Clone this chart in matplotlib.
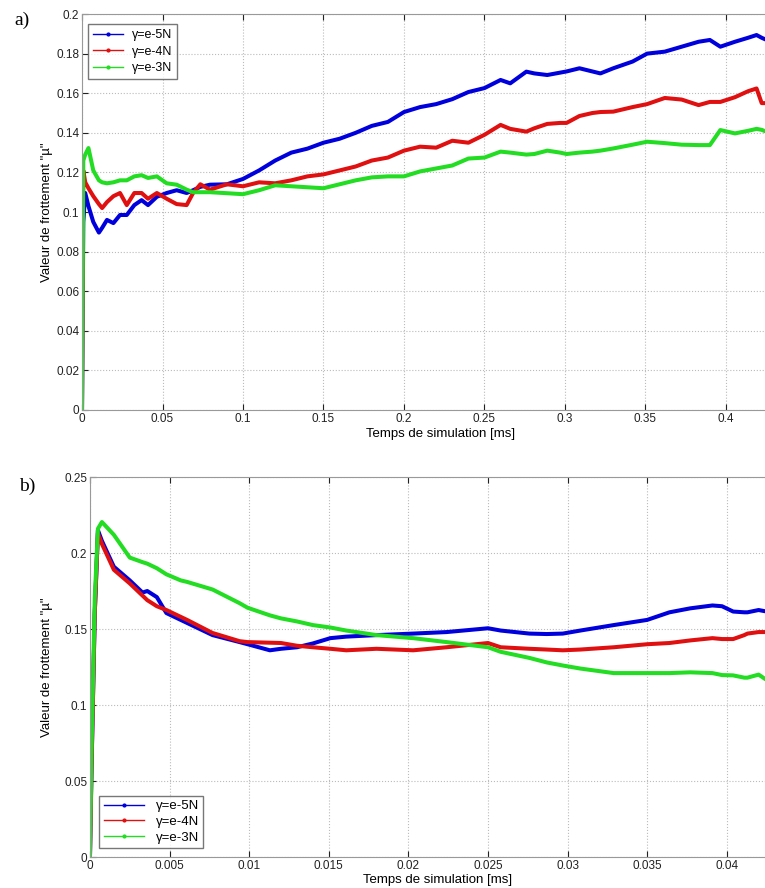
import matplotlib
matplotlib.use("Agg")
import matplotlib.pyplot as plt
from matplotlib.lines import Line2D
from matplotlib.ticker import FuncFormatter

plt.rcParams['font.family'] = ['Liberation Sans', 'DejaVu Sans']

# ---- donnees panneau a) ----
t_a = [0, 0.0008, 0.002, 0.004, 0.007, 0.0105, 0.0125, 0.0155, 0.0195, 0.0236,
       0.0278, 0.0325, 0.037, 0.041, 0.0465, 0.0526, 0.0588, 0.065, 0.069, 0.0735,
       0.0795, 0.09, 0.1, 0.11, 0.12, 0.13, 0.14, 0.15, 0.16, 0.17,
       0.18, 0.19, 0.2, 0.21, 0.22, 0.23, 0.24, 0.25, 0.26, 0.266,
       0.276, 0.281, 0.289, 0.297, 0.301, 0.309, 0.317, 0.322, 0.33, 0.342,
       0.351, 0.362, 0.3725, 0.383, 0.39, 0.3965, 0.4056, 0.4137, 0.419, 0.4222,
       0.425]
mu_a_e5 = [0.0, 0.095, 0.1096, 0.103, 0.095, 0.0896, 0.092, 0.096, 0.0944, 0.0985,
           0.0985, 0.1035, 0.106, 0.1035, 0.1077, 0.1096, 0.111, 0.1096, 0.111, 0.1127,
           0.1138, 0.114, 0.1167, 0.121, 0.126, 0.130, 0.132, 0.135, 0.137, 0.140,
           0.1435, 0.1455, 0.1505, 0.153, 0.1545, 0.157, 0.1606, 0.1626, 0.1667, 0.165,
           0.1709, 0.170, 0.1692, 0.1704, 0.171, 0.1726, 0.171, 0.170, 0.1726, 0.176,
           0.180, 0.181, 0.1835, 0.186, 0.1869, 0.1835, 0.186, 0.188, 0.1894, 0.188,
           0.187]
mu_a_e4 = [0.0, 0.121, 0.115, 0.112, 0.108, 0.104, 0.102, 0.105, 0.108, 0.1096,
           0.1035, 0.1096, 0.1096, 0.1067, 0.1096, 0.1067, 0.104, 0.1035, 0.1096, 0.114,
           0.1113, 0.114, 0.113, 0.115, 0.1145, 0.116, 0.118, 0.119, 0.121, 0.123,
           0.126, 0.1275, 0.131, 0.133, 0.1325, 0.136, 0.135, 0.139, 0.144, 0.142,
           0.1406, 0.1423, 0.1445, 0.145, 0.145, 0.1485, 0.150, 0.1505, 0.1507, 0.153,
           0.1545, 0.1576, 0.1568, 0.154, 0.1556, 0.1556, 0.158, 0.161, 0.1624, 0.155,
           0.155]
mu_a_e3 = [0.0, 0.126, 0.129, 0.1323, 0.121, 0.116, 0.115, 0.1145, 0.115, 0.116,
           0.116, 0.118, 0.1186, 0.1172, 0.118, 0.1145, 0.1138, 0.1113, 0.110, 0.110,
           0.110, 0.1095, 0.109, 0.111, 0.1135, 0.113, 0.1125, 0.112, 0.114, 0.116,
           0.1175, 0.118, 0.118, 0.1205, 0.122, 0.1235, 0.127, 0.1275, 0.1305, 0.130,
           0.129, 0.1293, 0.131, 0.130, 0.1293, 0.130, 0.1305, 0.131, 0.1321, 0.134,
           0.1355, 0.1348, 0.134, 0.1338, 0.1338, 0.1414, 0.1397, 0.141, 0.142, 0.1415,
           0.1406]
xticks_a = [0, 0.05, 0.1, 0.15, 0.2, 0.25, 0.3, 0.35, 0.4]
yticks_a = [0, 0.02, 0.04, 0.06, 0.08, 0.1, 0.12, 0.14, 0.16, 0.18, 0.2]

# ---- donnees panneau b) ----
t_b = [0, 0.0001, 0.0003, 0.0005, 0.00075, 0.0015, 0.0025, 0.0033, 0.0036, 0.0042,
       0.0048, 0.0057, 0.0061, 0.0077, 0.0094, 0.0099, 0.0113, 0.012, 0.013, 0.014,
       0.0151, 0.0161, 0.018, 0.0203, 0.0224, 0.025, 0.0258, 0.0276, 0.0287, 0.0297,
       0.0308, 0.0329, 0.035, 0.0364, 0.0377, 0.0391, 0.0397, 0.0404, 0.0411, 0.0413,
       0.042, 0.0425]
mu_b_e5 = [0.0, 0.06, 0.16, 0.215, 0.208, 0.191, 0.182, 0.174, 0.175, 0.171,
           0.1605, 0.156, 0.154, 0.146, 0.1414, 0.140, 0.136, 0.137, 0.138, 0.1405,
           0.144, 0.145, 0.146, 0.147, 0.148, 0.1505, 0.149, 0.147, 0.1467, 0.147,
           0.149, 0.1526, 0.156, 0.161, 0.1636, 0.1655, 0.165, 0.1615, 0.161, 0.161,
           0.1625, 0.1615]
mu_b_e4 = [0.0, 0.06, 0.16, 0.213, 0.206, 0.189, 0.180, 0.172, 0.169, 0.165,
           0.1625, 0.158, 0.156, 0.1474, 0.142, 0.1414, 0.141, 0.1408, 0.139, 0.138,
           0.137, 0.136, 0.137, 0.136, 0.138, 0.1408, 0.138, 0.137, 0.1365, 0.136,
           0.1365, 0.138, 0.140, 0.1408, 0.1425, 0.144, 0.1434, 0.1434, 0.146, 0.147,
           0.148, 0.148]
mu_b_e3 = [0.0, 0.07, 0.17, 0.216, 0.2204, 0.212, 0.197, 0.194, 0.193, 0.190,
           0.186, 0.182, 0.181, 0.176, 0.167, 0.164, 0.159, 0.157, 0.155, 0.1526,
           0.151, 0.149, 0.146, 0.144, 0.1414, 0.138, 0.135, 0.131, 0.128, 0.126,
           0.124, 0.121, 0.121, 0.121, 0.1215, 0.121, 0.1197, 0.1195, 0.118, 0.118,
           0.12, 0.1165]
xticks_b = [0, 0.005, 0.01, 0.015, 0.02, 0.025, 0.03, 0.035, 0.04]
yticks_b = [0, 0.05, 0.1, 0.15, 0.2, 0.25]

labels = ['\u03b3=e-5N', '\u03b3=e-4N', '\u03b3=e-3N']
colors = ['#0000dd', '#e01010', '#22dd22']

fig = plt.figure(figsize=(7.65, 8.88), dpi=100)
fmt = FuncFormatter(lambda v, p: '%g' % round(v, 6))


def style_axes(ax, xt, yt):
    ax.set_xticks(xt)
    ax.set_yticks(yt)
    ax.xaxis.set_major_formatter(fmt)
    ax.yaxis.set_major_formatter(fmt)
    ax.grid(True, linestyle=':', color='#bbbbbb', linewidth=0.8)
    ax.tick_params(direction='in', top=True, right=True, labelsize=8.5,
                   colors='#222222', length=4, pad=2)
    for s in ax.spines.values():
        s.set_color('#999999')
    ax.set_xlabel('Temps de simulation [ms]', fontsize=9.5, labelpad=0)
    ax.set_ylabel('Valeur de frottement "\u00b5"', fontsize=9.5, labelpad=2)


def handles():
    return [Line2D([0], [0], color=c, lw=1.0, marker='.', markersize=4) for c in colors]


# panneau a
ax1 = fig.add_axes([0.1072, 0.5383, 0.947, 0.4459])
for y, c in zip([mu_a_e5, mu_a_e4, mu_a_e3], colors):
    ax1.plot(t_a, y, color=c, lw=2.9, solid_joinstyle='round')
ax1.set_xlim(0, 0.45)
ax1.set_ylim(0, 0.2)
style_axes(ax1, xticks_a, yticks_a)
ax1.xaxis.set_label_coords(0.495, -0.045)
ax1.legend(handles(), labels, loc='upper left', fontsize=9, handlelength=2.4,
           frameon=True, fancybox=False, edgecolor='#555555', borderpad=0.4,
           labelspacing=0.35, handletextpad=0.7, bbox_to_anchor=(0.0, 0.99))
fig.text(0.029, 0.977, 'a)', family='Liberation Serif', fontsize=14, ha='center', va='center')

# panneau b
ax2 = fig.add_axes([0.1176, 0.0349, 0.9365, 0.4279])
for y, c in zip([mu_b_e5, mu_b_e4, mu_b_e3], colors):
    ax2.plot(t_b, y, color=c, lw=2.9, solid_joinstyle='round')
ax2.set_xlim(0, 0.045)
ax2.set_ylim(0, 0.25)
style_axes(ax2, xticks_b, yticks_b)
ax2.xaxis.set_label_coords(0.485, -0.045)
ax2.yaxis.set_label_coords(-0.052, 0.5)
ax2.legend(handles(), labels, loc='lower left', fontsize=9.5, handlelength=3.0,
           frameon=True, fancybox=False, edgecolor='#555555', borderpad=0.35,
           labelspacing=0.25, handletextpad=0.9, bbox_to_anchor=(0.004, 0.006))
fig.text(0.036, 0.452, 'b)', family='Liberation Serif', fontsize=14, ha='center', va='center')

fig.savefig('out.png', dpi=100, facecolor='white')
